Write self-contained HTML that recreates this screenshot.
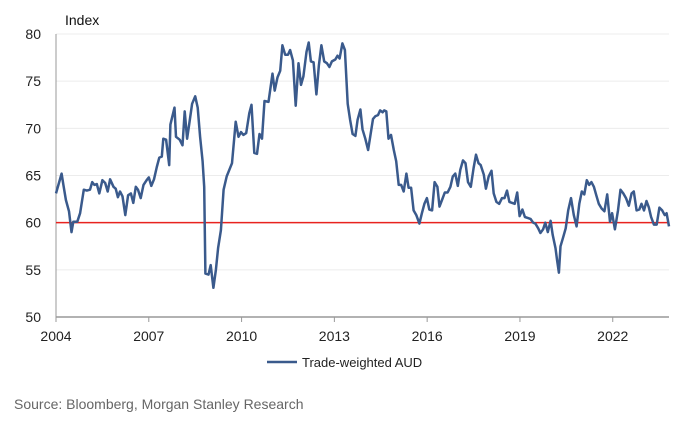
<!DOCTYPE html>
<html><head><meta charset="utf-8"><style>
body{margin:0;background:#fff;font-family:"Liberation Sans",sans-serif;}
svg text{font-family:"Liberation Sans",sans-serif;}
</style></head><body>
<svg id="chart" width="694" height="424" viewBox="0 0 694 424" xmlns="http://www.w3.org/2000/svg">
<text x="65" y="25" font-size="14" fill="#111">Index</text>
<g id="grid"></g><g id="yticks"></g><g id="xticks"></g>
<g id="series"></g>
<g>
<line x1="267" y1="362" x2="297" y2="362" stroke="#3a5a8c" stroke-width="2.5"/>
<text x="302" y="367" font-size="13" fill="#222">Trade-weighted AUD</text>
</g>
<text x="14" y="409" font-size="14" fill="#666">Source: Bloomberg, Morgan Stanley Research</text>
</svg>
<script>
const yTicks=[50,55,60,65,70,75,80];
const xTickYears=[2004,2007,2010,2013,2016,2019,2022];
const refLevel=60;
const dates=[2004.0,2004.18,2004.24,2004.32,2004.42,2004.5,2004.56,2004.69,2004.78,2004.9,2005.0,2005.1,2005.17,2005.24,2005.32,2005.4,2005.5,2005.59,2005.67,2005.75,2005.86,2005.93,2006.0,2006.07,2006.15,2006.24,2006.33,2006.42,2006.5,2006.58,2006.65,2006.74,2006.83,2006.93,2007.0,2007.08,2007.17,2007.26,2007.34,2007.42,2007.47,2007.56,2007.66,2007.7,2007.83,2007.88,2008.0,2008.09,2008.16,2008.24,2008.31,2008.4,2008.5,2008.58,2008.66,2008.74,2008.79,2008.83,2008.93,2009.0,2009.09,2009.17,2009.24,2009.33,2009.42,2009.52,2009.69,2009.81,2009.9,2009.98,2010.06,2010.15,2010.25,2010.32,2010.41,2010.5,2010.58,2010.66,2010.74,2010.87,2011.0,2011.07,2011.16,2011.25,2011.32,2011.41,2011.5,2011.57,2011.66,2011.75,2011.84,2011.92,2012.0,2012.1,2012.17,2012.24,2012.33,2012.42,2012.5,2012.58,2012.67,2012.76,2012.84,2012.92,2013.03,2013.1,2013.17,2013.26,2013.34,2013.43,2013.51,2013.59,2013.68,2013.75,2013.84,2013.91,2014.0,2014.09,2014.16,2014.25,2014.33,2014.41,2014.48,2014.56,2014.61,2014.68,2014.75,2014.83,2014.92,2015.0,2015.08,2015.16,2015.24,2015.33,2015.4,2015.48,2015.56,2015.65,2015.75,2015.83,2015.91,2015.99,2016.07,2016.16,2016.24,2016.33,2016.4,2016.48,2016.57,2016.66,2016.75,2016.83,2016.91,2016.99,2017.07,2017.16,2017.24,2017.32,2017.41,2017.5,2017.58,2017.66,2017.73,2017.83,2017.9,2017.99,2018.08,2018.15,2018.24,2018.33,2018.42,2018.5,2018.58,2018.66,2018.75,2018.83,2018.91,2018.99,2019.08,2019.16,2019.25,2019.34,2019.43,2019.5,2019.59,2019.66,2019.75,2019.82,2019.9,2019.99,2020.06,2020.15,2020.2,2020.26,2020.31,2020.4,2020.48,2020.56,2020.65,2020.74,2020.83,2020.92,2021.0,2021.08,2021.16,2021.24,2021.31,2021.39,2021.47,2021.55,2021.64,2021.73,2021.82,2021.91,2021.98,2022.07,2022.17,2022.25,2022.34,2022.43,2022.52,2022.61,2022.68,2022.77,2022.86,2022.93,2023.01,2023.09,2023.17,2023.24,2023.33,2023.42,2023.51,2023.6,2023.68,2023.74,2023.82];
const values=[63.1,65.2,64.0,62.4,61.2,59.0,60.1,60.1,61.0,63.5,63.4,63.5,64.3,64.0,64.1,63.1,64.5,64.2,63.3,64.6,63.8,63.6,62.7,63.3,62.8,60.8,62.9,63.1,62.1,63.8,63.5,62.6,64.0,64.5,64.8,63.9,64.6,65.9,66.9,67.0,68.9,68.8,66.1,70.4,72.2,69.1,68.8,68.2,71.8,68.9,70.5,72.6,73.4,72.2,69.1,66.5,63.8,54.6,54.5,55.5,53.1,55.0,57.3,59.2,63.5,64.9,66.3,70.7,69.1,69.6,69.3,69.5,71.6,72.5,67.4,67.3,69.4,68.9,72.9,72.8,75.8,74.0,75.4,76.1,78.8,77.8,77.8,78.3,77.2,72.4,76.9,74.6,75.5,78.1,79.1,77.1,77.0,73.6,76.7,78.8,77.1,76.9,76.5,77.1,77.3,77.7,77.4,79.0,78.3,72.6,70.9,69.4,69.2,70.9,72.0,69.9,68.9,67.7,69.1,71.0,71.3,71.4,71.9,71.7,71.9,71.8,68.9,69.3,67.7,66.5,64.0,64.0,63.3,65.2,63.7,63.7,61.3,60.8,59.9,61.0,62.0,62.6,61.4,61.3,64.3,63.8,61.7,62.4,63.2,63.2,63.8,64.9,65.2,63.9,65.6,66.6,66.3,64.3,63.8,65.8,67.2,66.3,66.1,65.1,63.6,64.9,65.5,63.1,62.2,62.0,62.6,62.6,63.4,62.2,62.1,62.0,63.2,60.7,61.4,60.6,60.5,60.4,60.0,59.9,59.4,58.9,59.3,60.0,59.0,60.2,58.7,57.3,56.0,54.7,57.5,58.5,59.4,61.3,62.6,60.8,59.6,62.0,63.3,63.0,64.5,64.0,64.3,63.8,62.9,62.0,61.5,61.2,63.0,60.1,61.0,59.3,61.3,63.5,63.1,62.6,61.8,63.1,63.3,61.3,61.4,62.0,61.3,62.3,61.6,60.6,59.8,59.8,61.6,61.3,60.8,61.0,59.6];

const X0=56,X1=669,Y0=317,Y1=34;
const xs=d=>X0+(d-2004)*30.93;
const ys=v=>Y0-(v-50)*(Y0-Y1)/30;
const NS="http://www.w3.org/2000/svg";
function mk(tag,attrs,parent){const e=document.createElementNS(NS,tag);for(const k in attrs)e.setAttribute(k,attrs[k]);parent.appendChild(e);return e;}
const grid=document.getElementById('grid'),yt=document.getElementById('yticks'),xt=document.getElementById('xticks'),ser=document.getElementById('series');
yTicks.forEach(v=>{
  if(v>50){const g=mk('line',{x1:X0,x2:X1,y1:ys(v),y2:ys(v),stroke:'#ececec','stroke-width':1},grid);
  
  }
  const t=mk('text',{x:41,y:ys(v)+5,'text-anchor':'end','font-size':14,fill:'#222'},yt);
  t.textContent=v;
  
  
});
const ax=mk('line',{x1:X0,x2:X0,y1:Y1,y2:Y0,stroke:'#999','stroke-width':1},grid);


const bx=mk('line',{x1:X0,x2:X1,y1:Y0,y2:Y0,stroke:'#999','stroke-width':1.5},grid);


xTickYears.forEach(y=>{
  const x=xs(y);
  mk('line',{x1:x,x2:x,y1:Y0,y2:Y0+5,stroke:'#999'},xt);
  const t=mk('text',{x:x,y:Y0+24,'text-anchor':'middle','font-size':14,fill:'#222'},xt);
  t.textContent=y;
  
  
});
const ref=mk('line',{x1:X0,x2:X1,y1:ys(refLevel),y2:ys(refLevel),stroke:'#e8231f','stroke-width':1.5},ser);


const pts=dates.map((d,i)=>xs(d).toFixed(1)+','+ys(values[i]).toFixed(1)).join(' ');
const pl=mk('polyline',{points:pts,fill:'none',stroke:'#3a5a8c','stroke-width':2.5,'stroke-linejoin':'round'},ser);


</script>
</body></html>
